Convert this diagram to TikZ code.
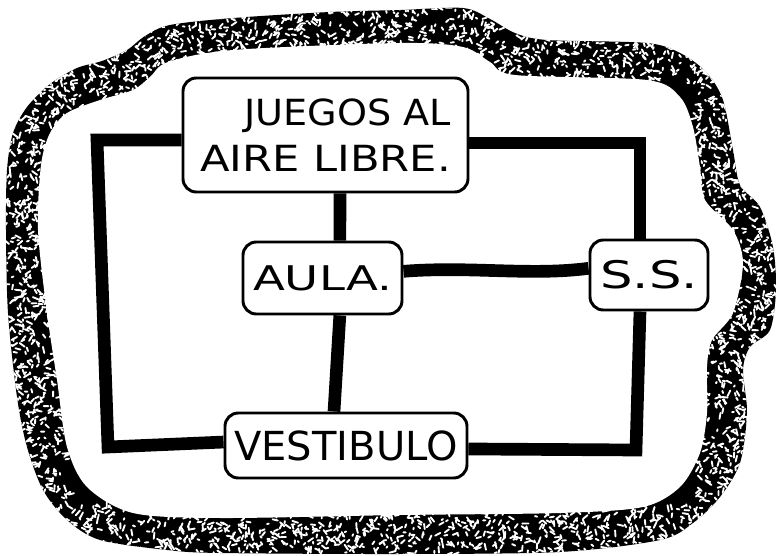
\documentclass[tikz,border=0pt]{standalone}
\usepackage{fontspec}
\usepackage{graphicx}
\newfontfamily\hand{DejaVu Sans}
\usetikzlibrary{backgrounds}
\newcommand\mySpecks[5]{%
  \foreach \i in {1,...,#1}{%
    \pgfmathsetmacro\px{#2+rnd*#4}%
    \pgfmathsetmacro\py{#3+rnd*#5}%
    \pgfmathsetmacro\pa{rnd*360}%
    \pgfmathsetmacro\pl{1.5+rnd*5}%
    \draw[white,line width=1.4pt,line cap=round] (\px,\py) -- ++(\pa:\pl);
  }}
\tikzset{
  room/.style={draw, line width=2.2pt, rounded corners=10pt, fill=white, inner sep=0pt},
  conn/.style={line width=9.5pt, line join=miter},
}
\begin{document}
\begin{tikzpicture}[x=0.75pt,y=-0.75pt]
\useasboundingbox (0,0) rectangle (776,556);

% rooms
\node[room, minimum width=213.75pt, minimum height=85.5pt, align=right,
      font=\hand\fontsize{27}{34}\selectfont] (J) at (325.5,135)
  {\scalebox{1.06}[1]{JUEGOS AL}\\\scalebox{1.2}[1]{AIRE LIBRE.}};
\node[room, minimum width=119.25pt, minimum height=54pt,
      font=\hand\fontsize{25.5}{30}\selectfont] (A) at (322.5,278)
  {\scalebox{1.37}[1]{AULA.}};
\node[room, minimum width=88.5pt, minimum height=52.5pt,
      font=\hand\fontsize{28.5}{34}\selectfont] (S) at (649,275)
  {\scalebox{1.35}[1]{S.S.}};
\node[room, minimum width=181.5pt, minimum height=48.75pt,
      font=\hand\fontsize{30}{36}\selectfont] (V) at (346,445.5)
  {VESTIBULO};

\begin{scope}[on background layer]
  % outer speckled band
  \begin{scope}
    \clip plot[smooth cycle] coordinates {(6,230) (7,170) (13,133) (27,107) (50,84) (77,68) (102,61) (127,50) (145,36) (170,25) (233,18) (330,12) (400,10) (463,8) (490,19) (515,33) (547,40) (647,43) (682,54) (707,73) (723,100) (733,150) (740,185) (760,207) (773,247) (776,290) (770,330) (750,347) (743,370) (747,413) (740,463) (720,497) (693,523) (660,540) (560,552) (400,554) (220,553) (167,550) (100,540) (67,520) (43,490) (27,447) (17,397) (8,313)};
    \fill[black] (0,0) rectangle (776,556);
    \pgfmathsetseed{12345}
    \mySpecks{950}{0}{25}{175}{190}
    \mySpecks{1270}{170}{5}{555}{80}
    \mySpecks{1090}{695}{60}{81}{470}
    \mySpecks{930}{60}{505}{640}{51}
    \mySpecks{630}{0}{210}{70}{315}
  \end{scope}
  \fill[white] plot[smooth cycle] coordinates {(38,230) (41,165) (50,133) (67,113) (100,100) (133,90) (150,77) (168,62) (233,50) (400,43) (463,47) (490,62) (515,75) (647,80) (680,97) (693,127) (700,167) (705,200) (733,230) (743,263) (733,313) (712,340) (707,367) (707,413) (700,453) (680,487) (643,507) (560,513) (400,515) (220,518) (133,513) (87,487) (67,447) (57,380) (47,313)};

  % connectors
  \coordinate (tl) at (97,140);
  \coordinate (bl) at (108,447);
  \coordinate (tr) at (640,143);
  \coordinate (br) at (636,450);
  \draw[conn] ([yshift=-3.75pt]J.west) -- (tl) -- (bl) -- ([yshift=2.6pt]V.west);
  \draw[conn] ([yshift=-6pt]J.east) -- (tr) -- (tr |- S.north);
  \draw[conn] ([xshift=-6.75pt]S.south) -- (br) -- ([yshift=-2.6pt]V.east);
  \draw[conn] ([xshift=10.9pt]J.south) -- ([xshift=13pt]A.north);
  \draw[conn] ([xshift=13pt]A.south) -- ([xshift=-9pt]V.north);
  \draw[conn] ([yshift=5pt]A.east) .. controls (470,266) and (530,276) .. ([yshift=5pt]S.west);
\end{scope}
\end{tikzpicture}
\end{document}
